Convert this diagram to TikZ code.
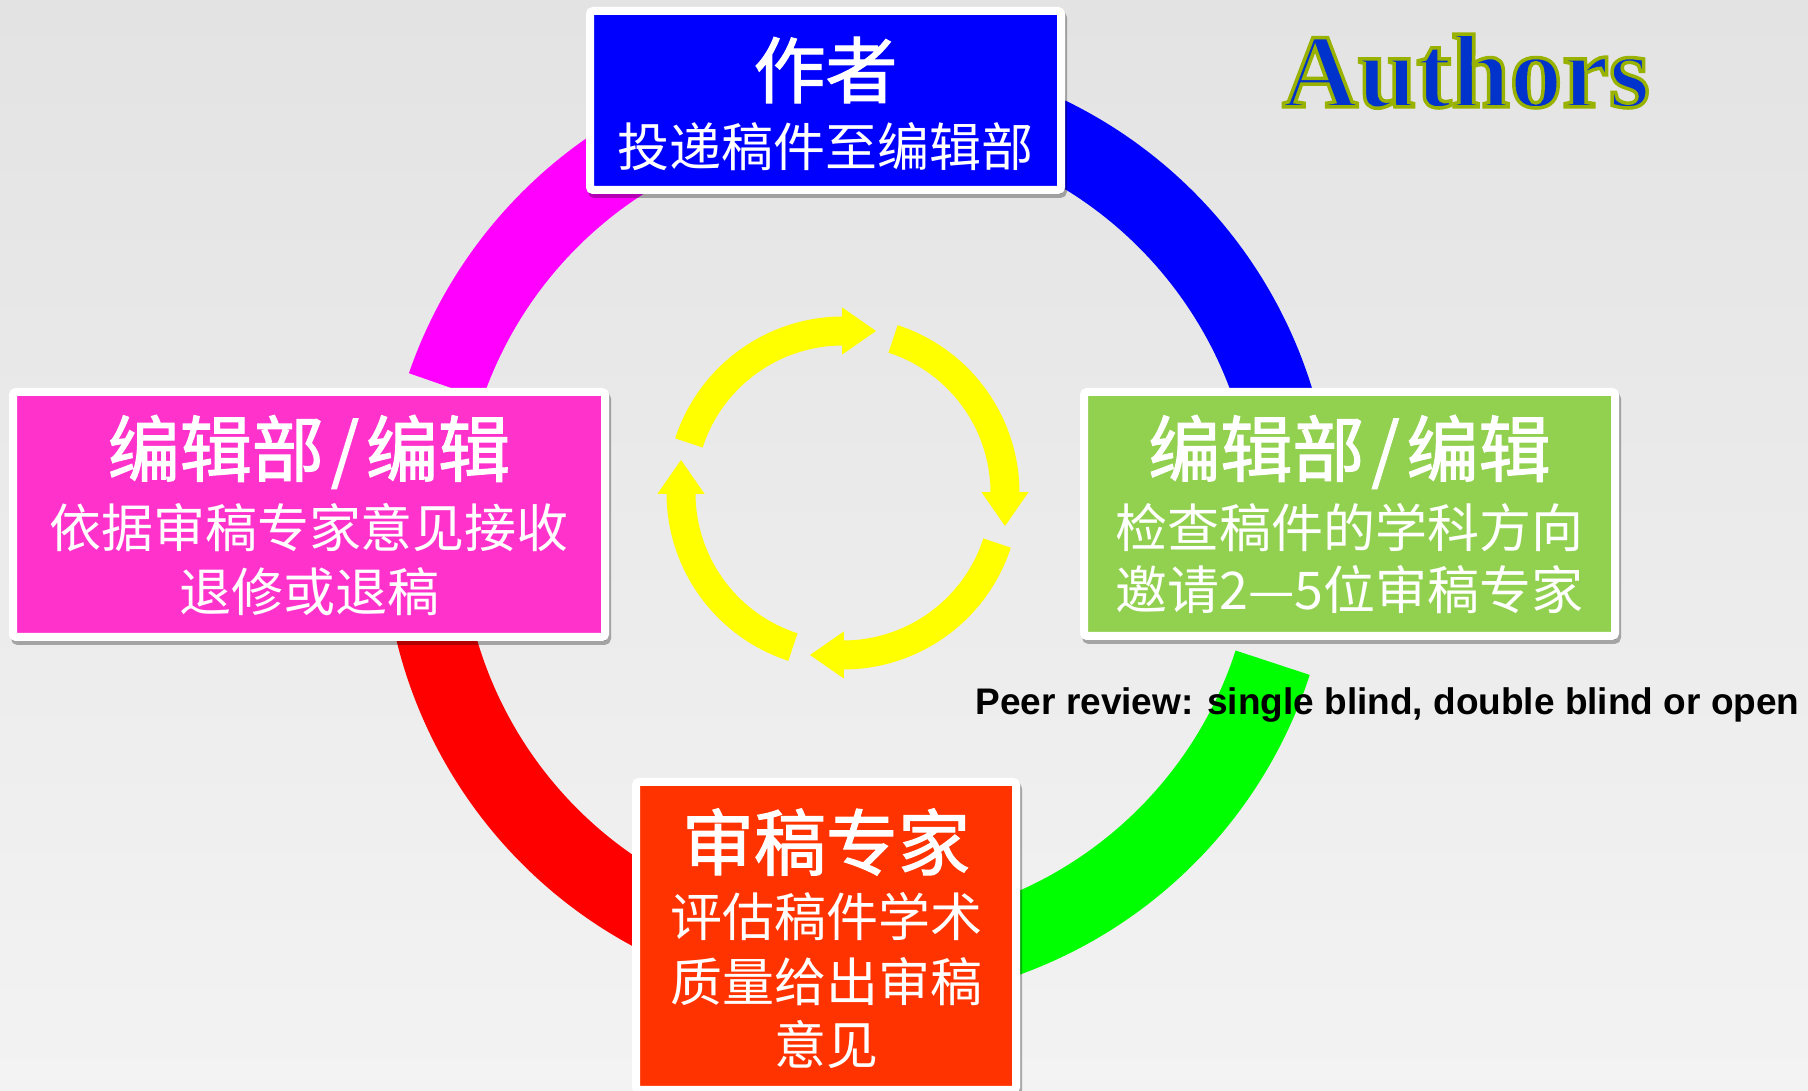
\documentclass[tikz,border=0pt]{standalone}
\usepackage{fontspec}
\setmainfont{Liberation Serif}
\newfontfamily\cjk{Noto Sans CJK SC}
\newfontfamily\cjkbf[FakeBold=1.6]{Noto Sans CJK SC}
\newfontfamily\arialb{Liberation Sans}
\usetikzlibrary{calc,shadows}
\definecolor{bgtop}{HTML}{E3E3E3}
\definecolor{bgbot}{HTML}{F3F3F3}
\definecolor{boxblue}{HTML}{0000FF}
\definecolor{boxpink}{HTML}{FF33CC}
\definecolor{boxgreen}{HTML}{92D050}
\definecolor{boxred}{HTML}{FF3300}
\definecolor{arcmag}{HTML}{FF00FF}
\definecolor{arcred}{HTML}{FF0000}
\definecolor{arcgreen}{HTML}{00FF00}
\definecolor{arcblue}{HTML}{0000FF}
\definecolor{ylw}{HTML}{FFFF00}
\definecolor{authfill}{HTML}{0033CC}
\newcommand{\slsh}{\kern7pt/\kern7pt}
\tikzset{
  card/.style={draw=white, line width=8pt, rounded corners=3pt,
    drop shadow={shadow xshift=2pt, shadow yshift=-4pt, opacity=0.3, fill=black, draw=black, line width=8pt}},
  ttl/.style={text=white, font=\cjkbf\fontsize{72}{80}\selectfont, inner sep=0pt},
  bdy/.style={text=white, font=\cjk\fontsize{52}{60}\selectfont, inner sep=0pt},
  ringseg/.style={line width=78pt},
  yarr/.style={ylw, line width=29pt},
}
\begin{document}
\begin{tikzpicture}[x=1pt,y=1pt]
\useasboundingbox (0,0) rectangle (1808,1091);
\clip (0,0) rectangle (1808,1091);
\shade[top color=bgtop, bottom color=bgbot] (0,0) rectangle (1808,1091);

% big ring
\coordinate (rc) at (858,563);
\draw[ringseg, arcblue] ([shift={(80:436pt)}]rc) arc[start angle=80, end angle=0, radius=436pt];
\draw[ringseg, arcmag] ([shift={(100:436pt)}]rc) arc[start angle=100, end angle=161, radius=436pt];
\draw[ringseg, arcred] ([shift={(185:436pt)}]rc) arc[start angle=185, end angle=250, radius=436pt];
\draw[ringseg, arcgreen] ([shift={(285:436pt)}]rc) arc[start angle=285, end angle=342, radius=436pt];

% yellow cycle
\coordinate (yc) at (843,598);
\foreach \s/\e in {162/90,72/0,-18/-90,-108/-180}{
  \draw[yarr] ([shift={(\s:162pt)}]yc) arc[start angle=\s, end angle=\e, radius=162pt];
  \fill[ylw] ($(yc)+(\e:138.5pt)+(\e+90:0.8pt)$) -- ($(yc)+(\e:185.5pt)+(\e+90:0.8pt)$)
     -- ($(yc)+(\e:162pt)+(\e-90:33pt)$) -- cycle;
}

% boxes
\node[card, fill=boxblue, minimum width=471pt, minimum height=179pt] (authorbox) at (825.5,990.5) {};
\node[ttl] (authorttl) at (825.5,1021) {作者};
\node[bdy] (authorbdy) at (825.5,944) {投递稿件至编辑部};

\node[card, fill=boxpink, minimum width=592pt, minimum height=245pt] (decisionbox) at (309,576.5) {};
\node[ttl] (decisionttl) at (309,639) {编辑部\slsh 编辑};
\node[bdy] (decisionb1) at (309,563) {依据审稿专家意见接收};
\node[bdy] (decisionb2) at (309,499) {退修或退稿};

\node[card, fill=boxgreen, minimum width=531pt, minimum height=244pt] (checkbox) at (1349.5,577) {};
\node[ttl] (checkttl) at (1349.5,639) {编辑部\slsh 编辑};
\node[bdy] (checkb1) at (1349.5,563) {检查稿件的学科方向};
\node[bdy] (checkb2) at (1349.5,501) {邀请2—5位审稿专家};

\node[card, fill=boxred, minimum width=380pt, minimum height=308pt] (reviewbox) at (826,155) {};
\node[ttl] (reviewttl) at (826,249) {审稿专家};
\node[bdy] (reviewb1) at (826,174) {评估稿件学术};
\node[bdy] (reviewb2) at (826,109) {质量给出审稿};
\node[bdy] (reviewb3) at (826,46) {意见};

% labels
\node[anchor=base, inner sep=0pt, font=\arialb\bfseries\fontsize{37}{44}\selectfont] (peer) at (1387.5,376)
  {Peer review: single blind, double blind or open};
\node[anchor=base, inner sep=0pt, font=\rmfamily\bfseries\fontsize{105}{110}\selectfont] (authors) at (1466,984)
  {\color{authfill}\special{pdf:literal direct 2 Tr 3.5 w 0.6 0.7 0 RG}Authors\special{pdf:literal direct 0 Tr}};
\end{tikzpicture}
\end{document}
